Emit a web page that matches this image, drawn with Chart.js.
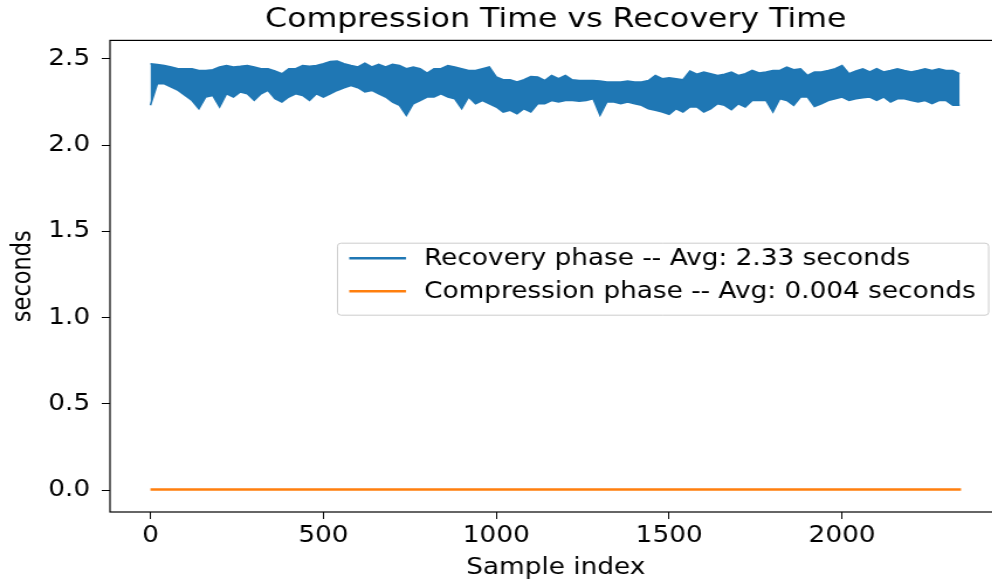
<!DOCTYPE html>
<html>
<head>
<meta charset="utf-8">
<script src="https://cdn.jsdelivr.net/npm/chart.js@4"></script>
<style>
  html, body { margin: 0; padding: 0; background: #fff; overflow: hidden; width: 992px; height: 584px; }
  /* the source picture is stretched sideways, so the canvas is too */
  #wrap { position: absolute; left: 0; top: 0; transform: scaleX(1.17); transform-origin: 0 0; }
  canvas { display: block; }
</style>
</head>
<body>
<div id="wrap"><canvas id="myChart" width="856" height="584"></canvas></div>
<script>
// sample index of each envelope reading
var recoveryIndex = [0, 20, 40, 60, 80, 100, 120, 140, 160, 180, 200, 220, 240, 260, 280, 300, 320, 340, 360, 380,
  400, 420, 440, 460, 480, 500, 520, 540, 560, 580, 600, 620, 640, 660, 680, 700, 720, 740, 760, 780,
  800, 820, 840, 860, 880, 900, 920, 940, 960, 980, 1000, 1020, 1040, 1060, 1080, 1100, 1120, 1140, 1160, 1180,
  1200, 1220, 1240, 1260, 1280, 1300, 1320, 1340, 1360, 1380, 1400, 1420, 1440, 1460, 1480, 1500, 1520, 1540, 1560, 1580,
  1600, 1620, 1640, 1660, 1680, 1700, 1720, 1740, 1760, 1780, 1800, 1820, 1840, 1860, 1880, 1900, 1920, 1940, 1960, 1980,
  2000, 2020, 2040, 2060, 2080, 2100, 2120, 2140, 2160, 2180, 2200, 2220, 2240, 2260, 2280, 2300, 2320, 2340];

// top of the recovery band (seconds)
var recoveryHigh = [2.471, 2.467, 2.461, 2.452, 2.442, 2.442, 2.442, 2.432, 2.432, 2.436, 2.452, 2.461, 2.452, 2.456, 2.461, 2.452, 2.442, 2.442, 2.429, 2.413,
  2.442, 2.442, 2.461, 2.456, 2.461, 2.471, 2.484, 2.486, 2.471, 2.461, 2.452, 2.474, 2.452, 2.467, 2.452, 2.467, 2.461, 2.442, 2.452, 2.442,
  2.417, 2.442, 2.442, 2.461, 2.452, 2.442, 2.432, 2.432, 2.442, 2.452, 2.394, 2.378, 2.378, 2.365, 2.378, 2.397, 2.394, 2.374, 2.403, 2.384,
  2.403, 2.378, 2.374, 2.374, 2.374, 2.371, 2.365, 2.365, 2.365, 2.371, 2.365, 2.365, 2.374, 2.403, 2.384, 2.390, 2.384, 2.378, 2.429, 2.410,
  2.423, 2.413, 2.403, 2.410, 2.423, 2.403, 2.413, 2.432, 2.417, 2.423, 2.432, 2.432, 2.452, 2.436, 2.442, 2.403, 2.423, 2.423, 2.432, 2.442,
  2.461, 2.413, 2.429, 2.442, 2.423, 2.442, 2.423, 2.432, 2.442, 2.432, 2.423, 2.432, 2.442, 2.432, 2.442, 2.432, 2.432, 2.413];

// bottom of the recovery band (seconds)
var recoveryLow = [2.230, 2.355, 2.355, 2.336, 2.316, 2.287, 2.258, 2.210, 2.278, 2.287, 2.220, 2.297, 2.278, 2.307, 2.297, 2.258, 2.297, 2.316, 2.268, 2.249,
  2.278, 2.297, 2.287, 2.258, 2.297, 2.278, 2.297, 2.316, 2.332, 2.345, 2.332, 2.307, 2.316, 2.297, 2.278, 2.249, 2.230, 2.172, 2.239, 2.258,
  2.278, 2.278, 2.297, 2.278, 2.268, 2.210, 2.278, 2.239, 2.258, 2.239, 2.220, 2.191, 2.201, 2.181, 2.210, 2.191, 2.239, 2.239, 2.258, 2.249,
  2.258, 2.258, 2.254, 2.258, 2.268, 2.172, 2.249, 2.249, 2.239, 2.249, 2.239, 2.230, 2.210, 2.201, 2.191, 2.178, 2.210, 2.191, 2.220, 2.220,
  2.191, 2.210, 2.239, 2.230, 2.204, 2.239, 2.220, 2.258, 2.258, 2.258, 2.191, 2.268, 2.258, 2.230, 2.278, 2.278, 2.223, 2.239, 2.258, 2.268,
  2.278, 2.258, 2.268, 2.274, 2.278, 2.258, 2.278, 2.249, 2.268, 2.268, 2.258, 2.249, 2.258, 2.239, 2.258, 2.258, 2.230, 2.230];

var compressionIndex = [0, 100, 200, 300, 400, 500, 600, 700, 800, 900, 1000, 1100, 1200, 1300, 1400, 1500, 1600, 1700, 1800, 1900, 2000, 2100, 2200, 2300, 2344];
var compressionValues = [0.004, 0.004, 0.004, 0.004, 0.004, 0.004, 0.005, 0.004, 0.004, 0.004, 0.004, 0.004, 0.004, 0.004, 0.004, 0.004, 0.004, 0.004, 0.005, 0.004, 0.004, 0.004, 0.004, 0.004, 0.004];

var recoveryLabel = 'Recovery phase -- Avg: 2.33 seconds';
var compressionLabel = 'Compression phase -- Avg: 0.004 seconds';
var xTicks = [0, 500, 1000, 1500, 2000];
var yTicks = [0.0, 0.5, 1.0, 1.5, 2.0, 2.5];

var blue = '#1f77b4';
var orange = '#ff7f0e';
var fam = '"DejaVu Sans", sans-serif';
var tickFont = { family: fam, size: 22.5 };

function points(xs, ys) {
  return xs.map(function (x, i) { return { x: x, y: ys[i] }; });
}

// matplotlib style: box round the axes and a legend sitting inside them
var frameAndLegend = {
  id: 'frameAndLegend',
  afterDraw: function (chart) {
    var c = chart.ctx, a = chart.chartArea;
    c.save();
    c.strokeStyle = '#000';
    c.lineWidth = 1.2;
    c.strokeRect(a.left, a.top, a.right - a.left, a.bottom - a.top);

    var items = chart.data.datasets.filter(function (d) { return !d.legendSkip; });
    c.font = '22.5px ' + fam;
    var textW = 0;
    items.forEach(function (d) { textW = Math.max(textW, c.measureText(d.label).width); });
    var padL = 10, handle = 48.5, gap = 15.5, padR = 11, rowH = 33;
    var boxW = padL + handle + gap + textW + padR;
    var boxH = 72;
    var right = a.right - 11;
    var left = right - boxW;
    var top = (a.top + a.bottom) / 2 - boxH / 2 + 3;

    c.beginPath();
    c.roundRect(left, top, boxW, boxH, 3);
    c.fillStyle = 'rgba(255,255,255,0.8)';
    c.fill();
    c.strokeStyle = '#cccccc';
    c.lineWidth = 1;
    c.stroke();

    items.forEach(function (d, i) {
      var y = top + 15 + i * rowH;
      c.beginPath();
      c.moveTo(left + padL, y);
      c.lineTo(left + padL + handle, y);
      c.strokeStyle = d.borderColor;
      c.lineWidth = 2.5;
      c.stroke();
      c.fillStyle = '#000';
      c.textBaseline = 'middle';
      c.textAlign = 'left';
      c.fillText(d.label, left + padL + handle + gap, y + 1);
    });
    c.restore();
  }
};

var ctx = document.getElementById('myChart').getContext('2d');
var chart = new Chart(ctx, {
  type: 'line',
  data: {
    datasets: [{
      label: recoveryLabel,
      data: points(recoveryIndex, recoveryHigh),
      borderColor: blue,
      backgroundColor: blue,
      borderWidth: 1.5,
      pointRadius: 0,
      tension: 0,
      fill: '+1'
    }, {
      label: 'recovery low',
      legendSkip: true,
      data: points(recoveryIndex, recoveryLow),
      borderColor: blue,
      borderWidth: 1.5,
      pointRadius: 0,
      tension: 0,
      fill: false
    }, {
      label: compressionLabel,
      data: points(compressionIndex, compressionValues),
      borderColor: orange,
      borderWidth: 2.5,
      pointRadius: 0,
      tension: 0,
      fill: false
    }]
  },
  options: {
    responsive: false,
    animation: false,
    devicePixelRatio: 1,
    layout: { padding: 0 },
    plugins: {
      legend: { display: false },
      tooltip: { enabled: false },
      title: {
        display: true,
        text: 'Compression Time vs Recovery Time',
        fullSize: false,
        color: '#000',
        font: { family: fam, size: 27, weight: 'normal' },
        padding: { top: 4, bottom: 4 }
      }
    },
    scales: {
      x: {
        type: 'linear',
        min: -117,
        max: 2461,
        afterFit: function (s) { s.height = 72; },
        afterBuildTicks: function (s) { s.ticks = xTicks.map(function (v) { return { value: v }; }); },
        ticks: { color: '#000', font: tickFont, padding: 4, maxRotation: 0, callback: function (v) { return String(v); } },
        grid: { drawOnChartArea: false, drawTicks: true, tickLength: 7, color: '#000', lineWidth: 1 },
        border: { display: false },
        title: { display: true, text: 'Sample index', color: '#000', font: tickFont, padding: { top: 0, bottom: 2 } }
      },
      y: {
        min: -0.1257,
        max: 2.606,
        afterFit: function (s) { s.width = 94; },
        afterBuildTicks: function (s) { s.ticks = yTicks.map(function (v) { return { value: v }; }); },
        ticks: { color: '#000', font: tickFont, padding: 10, callback: function (v) { return v.toFixed(1); } },
        grid: { drawOnChartArea: false, drawTicks: true, tickLength: 7, color: '#000', lineWidth: 1 },
        border: { display: false },
        title: { display: true, text: 'seconds', color: '#000', font: tickFont, padding: { top: 7, bottom: 0 } }
      }
    }
  },
  plugins: [frameAndLegend]
});
</script>
</body>
</html>
